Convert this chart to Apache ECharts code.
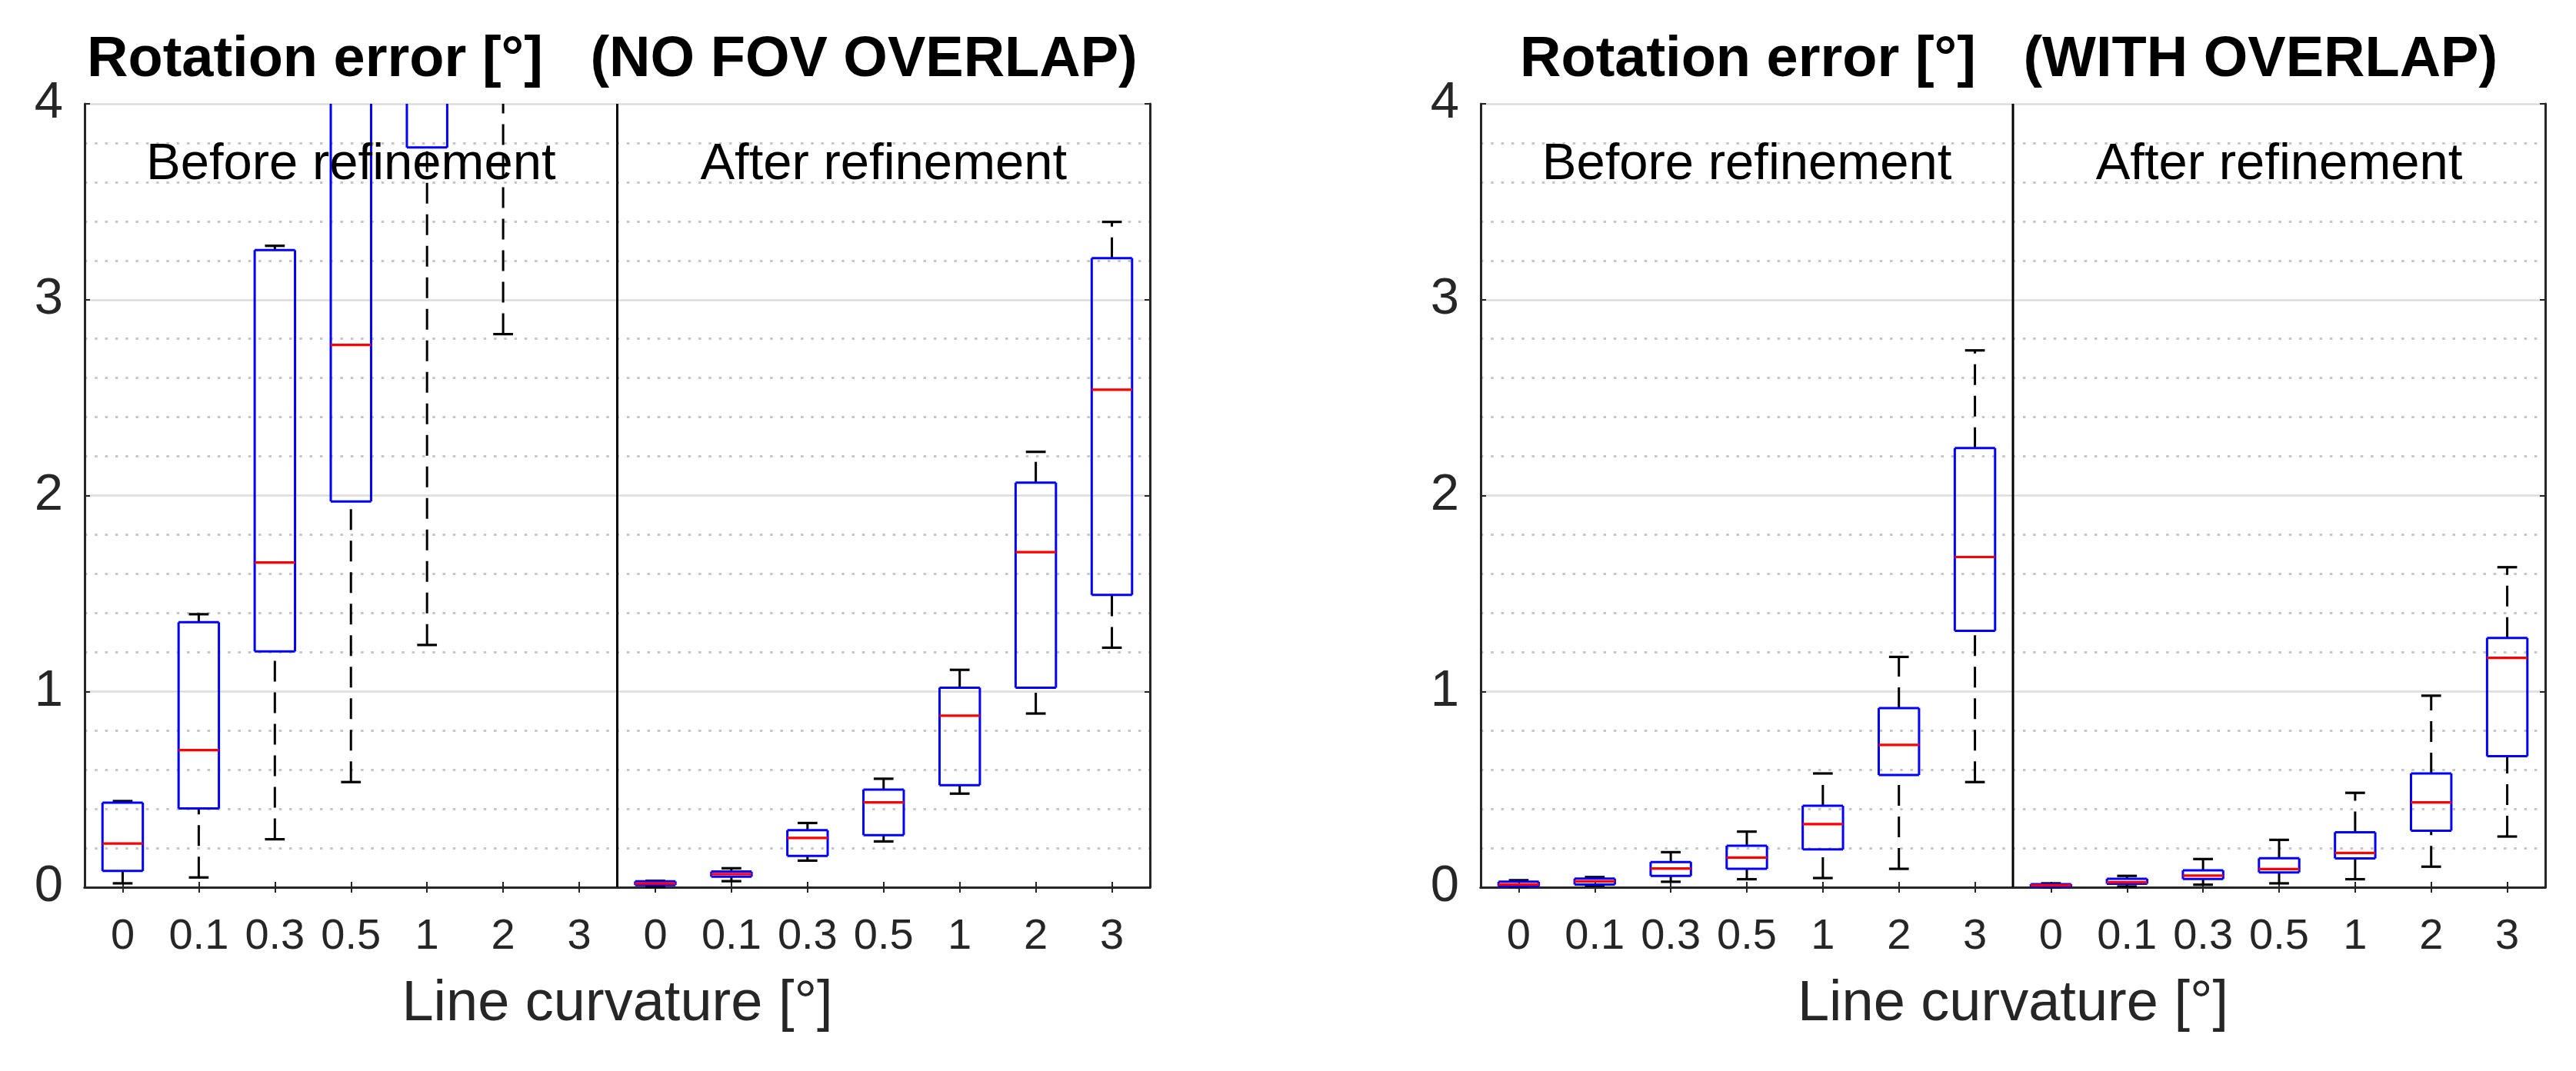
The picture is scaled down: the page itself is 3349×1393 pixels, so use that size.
<!DOCTYPE html>
<html><head><meta charset="utf-8">
<script src="https://cdn.jsdelivr.net/npm/echarts@6/dist/echarts.min.js"></script>
<style>html,body{margin:0;padding:0;background:#fff}#c{width:3349px;height:1393px}</style>
</head><body><div id="c"></div>
<script>
// Line curvature categories (repeated for "before" and "after" halves of each panel)
const categories = ['0', '0.1', '0.3', '0.5', '1', '2', '3'];
const yTickValues = [0, 1, 2, 3, 4];

// Each entry: [lower whisker, Q1, median, Q3, upper whisker]  (rotation error, degrees)
const noOverlapBefore = [
  [0.020, 0.083, 0.223, 0.432, 0.440],
  [0.050, 0.402, 0.700, 1.353, 1.394],
  [0.245, 1.204, 1.658, 3.253, 3.275],
  [0.537, 1.970, 2.769, 4.600, 5.800],
  [1.237, 3.777, 4.600, 5.500, 7.000],
  [2.824, 4.500, 5.600, 6.800, 8.500],
  [4.300, 5.500, 6.800, 8.000, 10.000]
];
const noOverlapAfter = [
  [0.002, 0.011, 0.019, 0.030, 0.033],
  [0.031, 0.054, 0.067, 0.080, 0.097],
  [0.136, 0.160, 0.252, 0.291, 0.328],
  [0.234, 0.266, 0.433, 0.499, 0.554],
  [0.478, 0.521, 0.876, 1.019, 1.110],
  [0.887, 1.019, 1.711, 2.066, 2.223],
  [1.223, 1.493, 2.540, 3.212, 3.397]
];
const overlapBefore = [
  [0.003, 0.005, 0.014, 0.028, 0.036],
  [0.008, 0.014, 0.030, 0.044, 0.052],
  [0.028, 0.058, 0.096, 0.129, 0.179],
  [0.041, 0.094, 0.152, 0.212, 0.284],
  [0.047, 0.193, 0.322, 0.416, 0.581],
  [0.094, 0.573, 0.727, 0.915, 1.176],
  [0.537, 1.309, 1.686, 2.242, 2.741]
];
const overlapAfter = [
  [0.001, 0.003, 0.010, 0.016, 0.020],
  [0.004, 0.018, 0.026, 0.043, 0.058],
  [0.013, 0.042, 0.059, 0.086, 0.144],
  [0.020, 0.076, 0.093, 0.148, 0.242],
  [0.041, 0.147, 0.175, 0.281, 0.482],
  [0.105, 0.289, 0.433, 0.581, 0.978],
  [0.259, 0.669, 1.171, 1.273, 1.634]
];

const panelTitles = ['Rotation error [°]   (NO FOV OVERLAP)', 'Rotation error [°]   (WITH OVERLAP)'];
const halfLabels = ['Before refinement', 'After refinement'];
const xAxisName = 'Line curvature [°]';

const FONT = "'Liberation Sans', Arial, Helvetica, sans-serif";
const AX = '#262626';

const axisCats = categories.concat(categories);
function toRows(before, after) {
  return before.concat(after).map((r, i) => [i].concat(r));
}

function boxRender(params, api) {
  const i = api.value(0);
  const vmin = api.value(1), q1 = api.value(2), med = api.value(3), q3 = api.value(4), vmax = api.value(5);
  const cs = params.coordSys;
  const top = cs.y, bottom = cs.y + cs.height;
  const band = api.size([1, 0])[0];
  const half = band * 0.265, capHalf = band * 0.13;
  const cx = api.coord([i, 0])[0];
  const Y = v => api.coord([i, v])[1];
  const inR = y => y >= top - 0.5 && y <= bottom + 0.5;
  const ch = [];
  function seg(x1, y1, x2, y2, style) {
    ch.push({ type: 'line', shape: { x1, y1, x2, y2 }, style });
  }
  function vclip(ya, yb, style) {
    let y1 = Math.min(ya, yb), y2 = Math.max(ya, yb);
    y1 = Math.max(y1, top); y2 = Math.min(y2, bottom);
    if (y2 - y1 > 0.5) seg(cx, y2, cx, y1, style);
  }
  const whisk = { stroke: '#000', lineWidth: 3, lineDash: [27, 14] };
  const solid = { stroke: '#000', lineWidth: 3.2 };
  const blue = { stroke: '#0000ff', lineWidth: 3 };
  const red = { stroke: '#ff0000', lineWidth: 3.2 };
  vclip(Y(q3), Y(vmax), whisk);
  vclip(Y(vmin), Y(q1), whisk);
  if (inR(Y(vmax))) seg(cx - capHalf, Y(vmax), cx + capHalf, Y(vmax), solid);
  if (inR(Y(vmin))) seg(cx - capHalf, Y(vmin), cx + capHalf, Y(vmin), solid);
  const yT = Y(q3), yB = Y(q1);
  const sT = Math.max(yT, top), sB = Math.min(yB, bottom);
  if (sB > sT) {
    seg(cx - half, sT, cx - half, sB, blue);
    seg(cx + half, sT, cx + half, sB, blue);
    if (inR(yT)) seg(cx - half, yT, cx + half, yT, blue);
    if (inR(yB)) seg(cx - half, yB, cx + half, yB, blue);
  }
  if (inR(Y(med))) seg(cx - half, Y(med), cx + half, Y(med), red);
  return { type: 'group', children: ch };
}

function dividerRender(params, api) {
  const cs = params.coordSys;
  const band = api.size([1, 0])[0];
  const x = api.coord([api.value(0), 0])[0] + band / 2;
  return { type: 'line', shape: { x1: x, y1: cs.y, x2: x, y2: cs.y + cs.height }, style: { stroke: '#000', lineWidth: 3 } };
}

const grids = [
  { left: 110, right: 3349 - 1495, top: 135, bottom: 1393 - 1154 },
  { left: 1925, right: 3349 - 3309, top: 135, bottom: 1393 - 1154 }
];

const xAxes = [], yAxes = [], series = [];
const panelData = [toRows(noOverlapBefore, noOverlapAfter), toRows(overlapBefore, overlapAfter)];
grids.forEach((g, gi) => {
  xAxes.push({
    type: 'category', gridIndex: gi, data: axisCats, position: 'bottom',
    axisLine: { show: true, lineStyle: { color: AX, width: 3 } },
    axisTick: { show: true, inside: true, alignWithLabel: true, length: 7, lineStyle: { color: AX, width: 2 } },
    axisLabel: { interval: 0, margin: 37, color: AX, fontSize: 56, fontFamily: FONT },
    splitLine: { show: false }
  });
  xAxes.push({
    type: 'category', gridIndex: gi, data: axisCats, position: 'top',
    axisLine: { show: true, lineStyle: { color: AX, width: 3 } },
    axisTick: { show: true, inside: true, alignWithLabel: true, length: 7, lineStyle: { color: AX, width: 2 } },
    axisLabel: { show: false }, splitLine: { show: false }
  });
  yAxes.push({
    type: 'value', gridIndex: gi, min: yTickValues[0], max: yTickValues[yTickValues.length - 1], interval: 1, position: 'left',
    axisLine: { show: true, lineStyle: { color: AX, width: 3 } },
    axisTick: { show: true, inside: true, length: 7, lineStyle: { color: AX, width: 2 } },
    axisLabel: { margin: 28, color: AX, fontSize: 67, fontFamily: FONT },
    splitLine: { show: true, lineStyle: { color: '#dcdcdc', width: 2.5 } },
    minorTick: { show: false, splitNumber: 5 },
    minorSplitLine: { show: true, lineStyle: { color: '#c6c6c6', width: 3, type: [3.5, 9.8] } }
  });
  yAxes.push({
    type: 'value', gridIndex: gi, min: yTickValues[0], max: yTickValues[yTickValues.length - 1], interval: 1, position: 'right',
    axisLine: { show: true, lineStyle: { color: AX, width: 3 } },
    axisTick: { show: true, inside: true, length: 7, lineStyle: { color: AX, width: 2 } },
    axisLabel: { show: false }, splitLine: { show: false }
  });
  series.push({
    type: 'custom', xAxisIndex: gi * 2, yAxisIndex: gi * 2, renderItem: boxRender,
    data: panelData[gi], encode: { x: 0, y: [1, 2, 3, 4, 5] }, z: 5, silent: true
  });
  series.push({
    type: 'custom', xAxisIndex: gi * 2, yAxisIndex: gi * 2, renderItem: dividerRender,
    data: [[categories.length - 1, 0]], encode: { x: 0, y: 1 }, z: 6, silent: true
  });
});

const graphics = [];
const panelX = [[110, 1495], [1925, 3309]];
const titleLeft = [113, 1976];
panelX.forEach((px, pi) => {
  const mid = (px[0] + px[1]) / 2;
  graphics.push({ type: 'text', x: titleLeft[pi], y: 79, style: { text: panelTitles[pi], font: 'bold 74px ' + FONT, fill: '#000', textAlign: 'left', textVerticalAlign: 'middle' } });
  graphics.push({ type: 'text', x: (px[0] + mid) / 2, y: 215, style: { text: halfLabels[0], font: '67px ' + FONT, fill: '#000', textAlign: 'center', textVerticalAlign: 'middle' }, z: 10 });
  graphics.push({ type: 'text', x: (mid + px[1]) / 2, y: 215, style: { text: halfLabels[1], font: '67px ' + FONT, fill: '#000', textAlign: 'center', textVerticalAlign: 'middle' }, z: 10 });
  graphics.push({ type: 'text', x: mid, y: 1307, style: { text: xAxisName, font: '74px ' + FONT, fill: AX, textAlign: 'center', textVerticalAlign: 'middle' } });
});

const chart = echarts.init(document.getElementById('c'));
chart.setOption({
  backgroundColor: '#fff',
  animation: false,
  grid: grids,
  xAxis: xAxes,
  yAxis: yAxes,
  series: series,
  graphic: graphics
});
</script></body></html>
